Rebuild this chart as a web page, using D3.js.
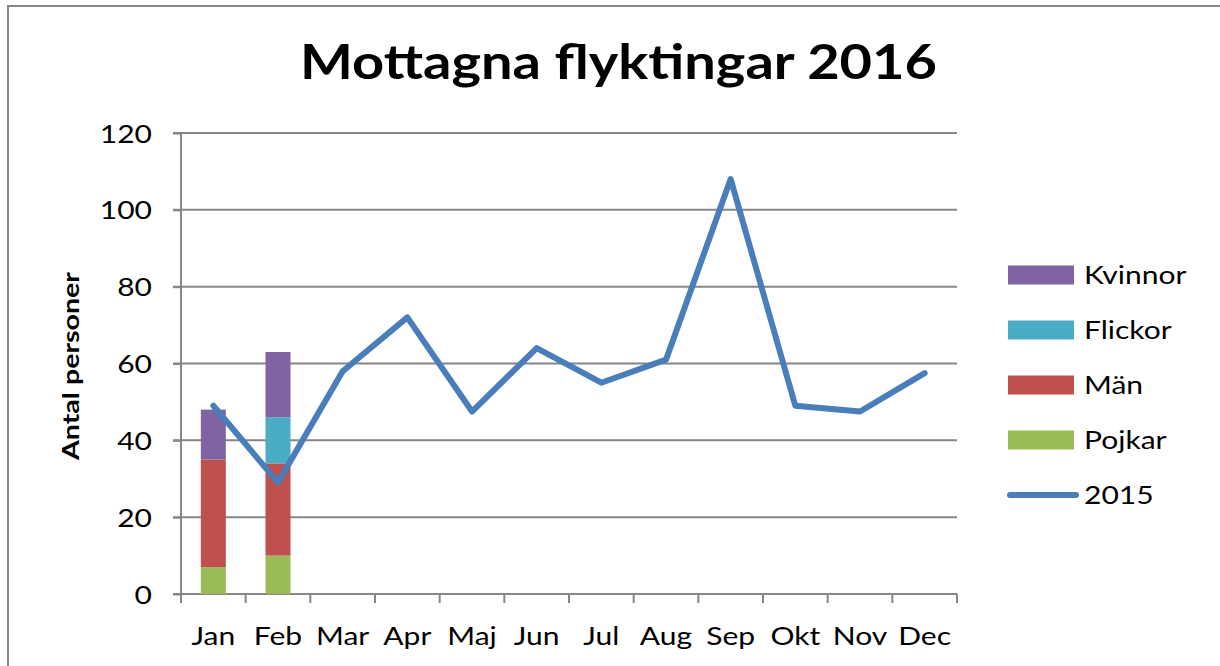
<!DOCTYPE html>
<html><head><meta charset="utf-8">
<script src="https://cdn.jsdelivr.net/npm/d3@7"></script>
<style>html,body{margin:0;padding:0;background:#fff;}svg{display:block;}</style>
</head><body>
<svg id="c" width="1220" height="666"></svg>
<script>
const months = ["Jan","Feb","Mar","Apr","Maj","Jun","Jul","Aug","Sep","Okt","Nov","Dec"];
const pojkar  = [7, 10, null, null, null, null, null, null, null, null, null, null];
const man     = [28, 24, null, null, null, null, null, null, null, null, null, null];
const flickor = [0, 12, null, null, null, null, null, null, null, null, null, null];
const kvinnor = [13, 17, null, null, null, null, null, null, null, null, null, null];
const y2015   = [49, 29, 58, 72, 47.5, 64, 55, 61, 108, 49, 47.5, 57.5];
const yTicks  = [0, 20, 40, 60, 80, 100, 120];
const seriesNames = ["Pojkar","Män","Flickor","Kvinnor"];
const seriesColors = ["#9bbb59","#c0504d","#4bacc6","#8064a2"];
const lineColor = "#4a7ebb";
const gridColor = "#868686";
const FONT = "Lato, 'Open Sans', sans-serif";
const STRETCH = 1.2;

const svg = d3.select("#c");
const L = 181, R = 957, T = 133, B = 594;

// outer frame
svg.append("rect").attr("x", 8).attr("y", 6).attr("width", 1300).attr("height", 700)
  .attr("fill", "none").attr("stroke", gridColor).attr("stroke-width", 2);

const x = d3.scaleBand().domain(months).range([L, R]).padding(0);
const y = d3.scaleLinear().domain([0, 120]).range([B, T]);

function stretch(sel, k) {
  sel.each(function() {
    const w = this.getComputedTextLength();
    d3.select(this).attr("textLength", w * k).attr("lengthAdjust", "spacingAndGlyphs");
  });
}

// gridlines
svg.append("g").selectAll("line").data(yTicks).join("line")
  .attr("x1", L - 8).attr("x2", R).attr("y1", d => y(d)).attr("y2", d => y(d))
  .attr("stroke", gridColor).attr("stroke-width", 2);

// y axis
const yAxis = svg.append("g").attr("transform", `translate(${L},0)`)
  .call(d3.axisLeft(y).tickValues(yTicks).tickSize(8).tickPadding(21));
yAxis.select(".domain").attr("d", `M0,${T}V${B + 9}`).attr("stroke", gridColor).attr("stroke-width", 2);
yAxis.selectAll(".tick line").attr("stroke", gridColor).attr("stroke-width", 2);
yAxis.selectAll(".tick text").attr("font-family", FONT).attr("font-size", 25).attr("fill", "#000").attr("dy", "0.36em").call(stretch, STRETCH);

// x axis: ticks at boundaries
const bounds = months.map(m => x(m)).concat([R]);
svg.append("g").selectAll("line").data(bounds).join("line")
  .attr("x1", d => d).attr("x2", d => d).attr("y1", B).attr("y2", B + 9)
  .attr("stroke", gridColor).attr("stroke-width", 2);
svg.append("g").selectAll("text").data(months).join("text")
  .attr("x", d => x(d) + x.bandwidth() / 2).attr("y", 645)
  .attr("text-anchor", "middle").attr("font-family", FONT).attr("font-size", 25)
  .text(d => d).call(stretch, STRETCH);

// stacked bars
const rows = months.map((m, i) => ({month: m, Pojkar: pojkar[i] || 0, "Män": man[i] || 0, Flickor: flickor[i] || 0, Kvinnor: kvinnor[i] || 0}));
const stack = d3.stack().keys(seriesNames)(rows);
const bw = 25;
svg.append("g").selectAll("g").data(stack).join("g")
  .attr("fill", (d, i) => seriesColors[i])
  .selectAll("rect").data(d => d.filter(p => p[1] - p[0] > 0)).join("rect")
  .attr("x", d => x(d.data.month) + x.bandwidth() / 2 - bw / 2)
  .attr("width", bw)
  .attr("y", d => y(d[1]))
  .attr("height", d => y(d[0]) - y(d[1]));

// 2015 line
const line = d3.line().x((d, i) => x(months[i]) + x.bandwidth() / 2).y(d => y(d));
svg.append("path").datum(y2015).attr("d", line)
  .attr("fill", "none").attr("stroke", lineColor).attr("stroke-width", 6)
  .attr("stroke-linejoin", "round").attr("stroke-linecap", "round");

// title
svg.append("text").attr("x", 300).attr("y", 79).attr("font-family", FONT)
  .attr("font-weight", "bold").attr("font-size", 47).text("Mottagna flyktingar 2016")
  .attr("textLength", 637).attr("lengthAdjust", "spacingAndGlyphs");

// y axis title
svg.append("text").attr("transform", "translate(79,366) rotate(-90)")
  .attr("text-anchor", "middle").attr("font-family", FONT).attr("font-weight", "bold")
  .attr("font-size", 23).text("Antal personer")
  .attr("textLength", 188).attr("lengthAdjust", "spacingAndGlyphs");

// legend
const legendItems = [
  {name: "Kvinnor", color: seriesColors[3], type: "rect"},
  {name: "Flickor", color: seriesColors[2], type: "rect"},
  {name: "Män", color: seriesColors[1], type: "rect"},
  {name: "Pojkar", color: seriesColors[0], type: "rect"},
  {name: "2015", color: lineColor, type: "line"}
];
const lg = svg.append("g");
legendItems.forEach((it, i) => {
  const cy = 275 + i * 55;
  if (it.type === "rect") {
    lg.append("rect").attr("x", 1008).attr("y", cy - 9.5).attr("width", 66).attr("height", 19).attr("fill", it.color);
  } else {
    lg.append("line").attr("x1", 1010).attr("x2", 1076).attr("y1", cy).attr("y2", cy)
      .attr("stroke", it.color).attr("stroke-width", 6).attr("stroke-linecap", "round");
  }
  lg.append("text").attr("x", 1084).attr("y", cy).attr("dy", "0.36em")
    .attr("font-family", FONT).attr("font-size", 25).text(it.name).call(stretch, STRETCH);
});
</script>
</body></html>
